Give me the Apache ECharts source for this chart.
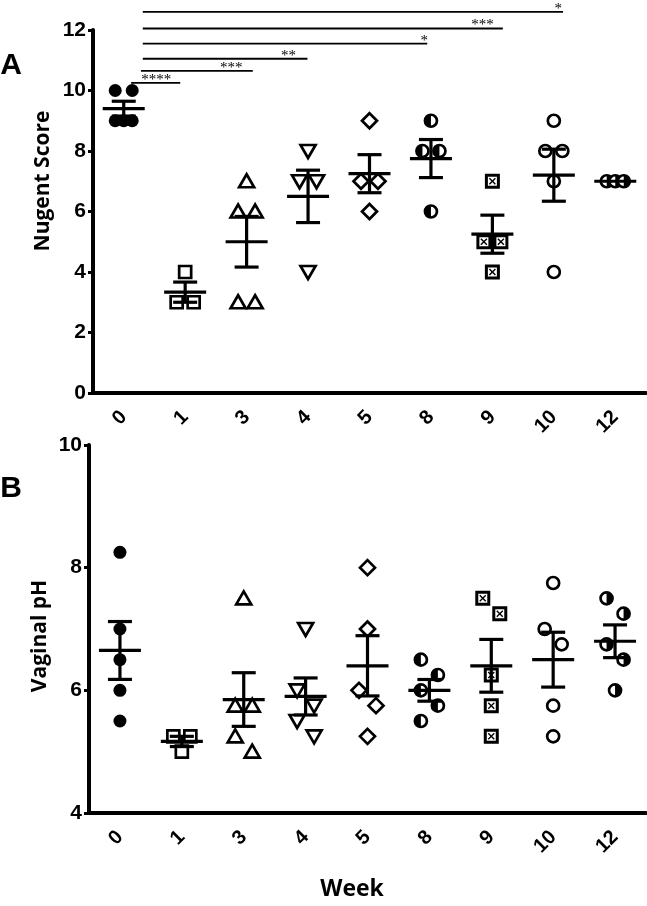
<!DOCTYPE html>
<html>
<head>
<meta charset="utf-8">
<script src="https://cdn.jsdelivr.net/npm/echarts@6/dist/echarts.min.js"></script>
<style>
  html, body { margin: 0; padding: 0; background: #fff; }
  #chart { width: 647px; height: 906px; }
</style>
</head>
<body>
<div id="chart"></div>
<script>
// weeks on the x axis (both panels)
const weeks = ['0', '1', '3', '4', '5', '8', '9', '10', '12'];

// Nugent score, one list of subjects per week
const nugent = [
  [10, 10, 9, 9, 9],
  [4, 3, 3],
  [7, 6, 6, 3, 3],
  [8, 7, 7, 4],
  [9, 7, 7, 6],
  [9, 8, 8, 6],
  [7, 5, 5, 4],
  [9, 8, 8, 7, 4],
  [7, 7, 7]
];

// vaginal pH, one list per week
const ph = [
  [8.25, 7, 6.5, 6, 5.5],
  [5.25, 5.25, 5],
  [7.5, 5.75, 5.75, 5.25, 5],
  [7, 6, 5.75, 5.5, 5.25],
  [8, 7, 6, 5.75, 5.25],
  [6.5, 6.25, 6, 5.75, 5.5],
  [7.5, 7.25, 6.25, 5.75, 5.25],
  [7.75, 7, 6.75, 5.75, 5.25],
  [7.5, 7.25, 6.75, 6.5, 6]
];

const nugentTicks = [0, 2, 4, 6, 8, 10, 12];
const phTicks = [4, 6, 8, 10];

// significance brackets of panel A (x in category units from week 0, y in score units)
const sigFrom = [0.12, 0.28, 0.31, 0.31, 0.31, 0.31];
const sigTo = [0.92, 2.1, 2.99, 4.94, 6.17, 7.15];
const sigY = [10.25, 10.65, 11.05, 11.55, 12.05, 12.6];
const sigStars = ['****', '***', '**', '*', '***', '*'];
const sigLabelX = [0.53, 1.75, 2.68, 4.89, 5.84, 7.07];

// marker shape for each week
const markers = ['dot', 'square', 'triUp', 'triDown', 'diamond', 'halfL', 'boxX', 'circle', 'halfR'];

const mean = a => a.reduce((s, v) => s + v, 0) / a.length;
const sem = a => {
  const m = mean(a);
  const sd = Math.sqrt(a.reduce((s, v) => s + (v - m) * (v - m), 0) / (a.length - 1));
  return sd / Math.sqrt(a.length);
};

// spread tied / close points sideways like a column scatter
function layoutPoints(groups, gap, d) {
  const out = [];
  groups.forEach((vals, ci) => {
    const sorted = vals.slice().sort((a, b) => b - a);
    const ties = [];
    sorted.forEach(v => {
      const last = ties[ties.length - 1];
      if (last && last.v === v) last.n++;
      else ties.push({v: v, n: 1});
    });
    let prev = null;
    ties.forEach((t, k) => {
      if (t.n > 1) {
        for (let i = 0; i < t.n; i++) out.push([ci, t.v, -d + i * 2 * d / (t.n - 1)]);
        prev = {tie: true, off: 0};
      } else {
        const near = k > 0 && ties[k - 1].v - t.v < gap;
        const nextNear = k < ties.length - 1 && t.v - ties[k + 1].v < gap;
        let off = 0;
        if (near) {
          if (prev.tie) off = 0;
          else off = prev.off !== 0 ? -prev.off : -d;
        } else if (nextNear) {
          off = -d;
        }
        out.push([ci, t.v, off]);
        prev = {tie: false, off: off};
      }
    });
  });
  return out;
}

function marker(type, x, y) {
  const s = {stroke: '#000', lineWidth: 2.7, fill: '#fff'};
  switch (type) {
    case 'dot':
      return {type: 'circle', shape: {cx: x, cy: y, r: 6.5}, style: {fill: '#000'}};
    case 'circle':
      return {type: 'circle', shape: {cx: x, cy: y, r: 6}, style: s};
    case 'square':
      return {type: 'rect', shape: {x: x - 6, y: y - 6, width: 12, height: 12}, style: s};
    case 'triUp':
      return {type: 'polygon', shape: {points: [[x, y - 7], [x + 7.5, y + 6], [x - 7.5, y + 6]]}, style: s};
    case 'triDown':
      return {type: 'polygon', shape: {points: [[x - 7.5, y - 6], [x + 7.5, y - 6], [x, y + 7]]}, style: s};
    case 'diamond':
      return {type: 'polygon', shape: {points: [[x, y - 7.5], [x + 7.5, y], [x, y + 7.5], [x - 7.5, y]]}, style: s};
    case 'halfL':
    case 'halfR': {
      const left = type === 'halfL';
      return {
        type: 'group',
        children: [
          {type: 'circle', shape: {cx: x, cy: y, r: 6}, style: s},
          {type: 'sector', shape: {cx: x, cy: y, r0: 0, r: 6,
            startAngle: left ? Math.PI / 2 : -Math.PI / 2,
            endAngle: left ? Math.PI * 1.5 : Math.PI / 2}, style: {fill: '#000'}}
        ]
      };
    }
    case 'boxX':
      return {
        type: 'group',
        children: [
          {type: 'rect', shape: {x: x - 6, y: y - 6, width: 12, height: 12}, style: {stroke: '#000', lineWidth: 3, fill: '#fff'}},
          {type: 'line', shape: {x1: x - 3, y1: y - 3, x2: x + 3, y2: y + 3}, style: {stroke: '#000', lineWidth: 1.4}},
          {type: 'line', shape: {x1: x - 3, y1: y + 3, x2: x + 3, y2: y - 3}, style: {stroke: '#000', lineWidth: 1.4}}
        ]
      };
  }
}

function pointSeries(groups, idx) {
  return {
    type: 'custom',
    xAxisIndex: idx,
    yAxisIndex: idx,
    z: 2,
    data: layoutPoints(groups, 0.3, 8.5),
    renderItem: (params, api) => {
      const c = api.coord([api.value(0), api.value(1)]);
      return marker(markers[api.value(0)], c[0] + api.value(2), c[1]);
    }
  };
}

function meanSeries(groups, idx) {
  return {
    type: 'custom',
    xAxisIndex: idx,
    yAxisIndex: idx,
    z: 5,
    data: groups.map((g, i) => [i, mean(g), sem(g)]),
    renderItem: (params, api) => {
      const i = api.value(0), m = api.value(1), se = api.value(2);
      const c = api.coord([i, m]);
      const t = api.coord([i, m + se]);
      const b = api.coord([i, m - se]);
      const st = {stroke: '#000', lineWidth: 3.2};
      const kids = [{type: 'line', shape: {x1: c[0] - 21, y1: c[1], x2: c[0] + 21, y2: c[1]}, style: st}];
      if (se > 0) {
        kids.push({type: 'line', shape: {x1: c[0], y1: t[1], x2: c[0], y2: b[1]}, style: st});
        kids.push({type: 'line', shape: {x1: c[0] - 12, y1: t[1], x2: c[0] + 12, y2: t[1]}, style: st});
        kids.push({type: 'line', shape: {x1: c[0] - 12, y1: b[1], x2: c[0] + 12, y2: b[1]}, style: st});
      }
      return {type: 'group', children: kids};
    }
  };
}

const chart = echarts.init(document.getElementById('chart'));

const tickFont = {color: '#000', fontWeight: 'bold', fontSize: 21, fontFamily: 'Liberation Sans'};

function xAxis(idx) {
  return {
    type: 'category',
    gridIndex: idx,
    data: weeks,
    boundaryGap: true,
    axisLine: {lineStyle: {color: '#000', width: 4}},
    axisTick: {alignWithLabel: true, length: 6, lineStyle: {color: '#000', width: 4}},
    axisLabel: {rotate: 45, margin: 21, color: '#000', fontWeight: 'bold', fontSize: 20, fontFamily: 'Liberation Sans'},
    splitLine: {show: false}
  };
}

function yAxis(idx, ticks) {
  return {
    type: 'value',
    gridIndex: idx,
    min: ticks[0],
    max: ticks[ticks.length - 1],
    interval: ticks[1] - ticks[0],
    axisLine: {show: true, lineStyle: {color: '#000', width: 4}},
    axisTick: {show: true, length: 5, lineStyle: {color: '#000', width: 3}},
    axisLabel: Object.assign({margin: 7}, tickFont),
    splitLine: {show: false}
  };
}

const titleFont = 'bold 21px "Open Sans"';

chart.setOption({
  animation: false,
  backgroundColor: '#fff',
  grid: [
    {left: 93, top: 30, width: 553, height: 363},
    {left: 89, top: 445, width: 557, height: 368}
  ],
  xAxis: [xAxis(0), xAxis(1)],
  yAxis: [yAxis(0, nugentTicks), yAxis(1, phTicks)],
  graphic: [
    {type: 'text', x: 11, y: 66, style: {text: 'A', font: 'bold 30px "Liberation Sans"', fill: '#000', align: 'center', verticalAlign: 'middle'}},
    {type: 'text', x: 11, y: 489, style: {text: 'B', font: 'bold 30px "Liberation Sans"', fill: '#000', align: 'center', verticalAlign: 'middle'}},
    {type: 'text', x: 43, y: 181, rotation: Math.PI / 2, style: {text: 'Nugent Score', font: titleFont, fill: '#000', align: 'center', verticalAlign: 'middle'}},
    {type: 'text', x: 40, y: 636, rotation: Math.PI / 2, style: {text: 'Vaginal pH', font: titleFont, fill: '#000', align: 'center', verticalAlign: 'middle'}},
    {type: 'text', x: 352, y: 889, style: {text: 'Week', font: 'bold 23px "Open Sans"', fill: '#000', align: 'center', verticalAlign: 'middle'}}
  ],
  series: [
    pointSeries(nugent, 0),
    meanSeries(nugent, 0),
    pointSeries(ph, 1),
    meanSeries(ph, 1),
    {
      type: 'custom',
      xAxisIndex: 0,
      yAxisIndex: 0,
      data: sigY.map(y => [0, y]),
      renderItem: (params, api) => {
        const i = params.dataIndex;
        const p0 = api.coord([0, sigY[i]]);
        const p1 = api.coord([1, sigY[i]]);
        const band = p1[0] - p0[0];
        return {
          type: 'group',
          children: [
            {type: 'line', shape: {x1: p0[0] + sigFrom[i] * band, y1: p0[1], x2: p0[0] + sigTo[i] * band, y2: p0[1]},
              style: {stroke: '#000', lineWidth: 1.8}},
            {type: 'text', style: {x: p0[0] + sigLabelX[i] * band, y: p0[1] - 3, text: sigStars[i],
              font: '15px "Liberation Serif"', fill: '#000', align: 'center', verticalAlign: 'middle'}}
          ]
        };
      }
    }
  ]
});
</script>
</body>
</html>
